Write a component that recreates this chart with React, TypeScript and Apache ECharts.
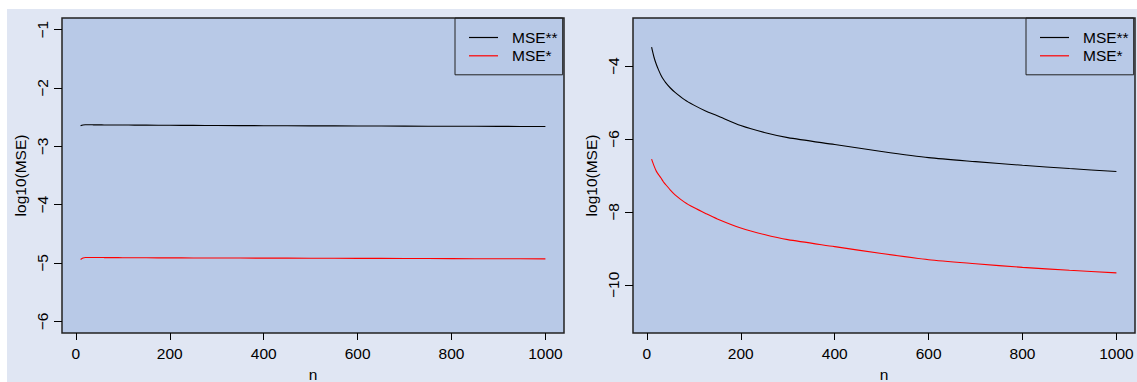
import React, { useEffect, useRef } from "react";
import * as echarts from "echarts";

// Sample sizes at which the MSE was evaluated
const sampleSizes = [10, 15, 20, 25, 30, 35, 40, 50, 60, 80, 100, 125, 150, 200, 250, 300, 400, 500, 600, 700, 800, 900, 1000];

// Left panel: log10(MSE) values
const leftMseDoubleStar = [-2.645, -2.634, -2.63, -2.63, -2.631, -2.631, -2.632, -2.632, -2.633, -2.634, -2.635, -2.636, -2.637, -2.639, -2.641, -2.643, -2.646, -2.649, -2.651, -2.654, -2.656, -2.658, -2.66];
const leftMseStar = [-4.94, -4.915, -4.905, -4.905, -4.905, -4.905, -4.906, -4.906, -4.907, -4.908, -4.909, -4.91, -4.911, -4.912, -4.913, -4.914, -4.916, -4.918, -4.92, -4.922, -4.925, -4.927, -4.93];

// Right panel: log10(MSE) values
const rightMseDoubleStar = [-3.48, -3.75, -3.95, -4.11, -4.25, -4.36, -4.45, -4.6, -4.72, -4.92, -5.07, -5.23, -5.36, -5.63, -5.82, -5.96, -6.15, -6.34, -6.51, -6.62, -6.72, -6.81, -6.89];
const rightMseStar = [-6.55, -6.73, -6.88, -6.98, -7.07, -7.17, -7.25, -7.4, -7.53, -7.73, -7.88, -8.04, -8.19, -8.44, -8.62, -8.76, -8.95, -9.14, -9.31, -9.42, -9.52, -9.6, -9.67];

// Tick positions
const xTicks = [0, 200, 400, 600, 800, 1000];
const leftYTicks = [-6, -5, -4, -3, -2, -1];
const rightYTicks = [-10, -8, -6, -4];

const seriesNames = ["MSE**", "MSE*"];
const seriesColors = ["#000000", "#ff0000"];

const FONT = "'Liberation Sans', Arial, Helvetica, sans-serif";
const PAGE_BG = "#e0e6f3";
const PLOT_BG = "#b8c9e7";

const toPairs = (ys: number[]) => sampleSizes.map((n, i) => [n, ys[i]]);
const withMinus = (v: number) => String(v).replace("-", "\u2212");

export default function App() {
  const ref = useRef<HTMLDivElement>(null);

  useEffect(() => {
    if (!ref.current) return;
    const chart = echarts.init(ref.current, null, { renderer: "svg" });

    const textStyle = { color: "#000", fontSize: 15.5, fontFamily: FONT };

    const xAxisFor = (gridIndex: number) => ({
      type: "value",
      gridIndex,
      min: -29.6,
      max: 1039.6,
      axisLine: { show: false, onZero: false },
      axisTick: { show: true, inside: false, length: 7, customValues: xTicks, lineStyle: { color: "#000", width: 1 } },
      axisLabel: { customValues: xTicks, margin: 12, formatter: (v: number) => String(v), ...textStyle },
      splitLine: { show: false },
      name: "n",
      nameLocation: "middle",
      nameGap: 33,
      nameMoveOverlap: false,
      nameTextStyle: textStyle,
    });

    const yAxisFor = (gridIndex: number, min: number, max: number, ticks: number[]) => ({
      type: "value",
      gridIndex,
      min,
      max,
      axisLine: { show: false, onZero: false },
      axisTick: { show: true, inside: false, length: 8, customValues: ticks, lineStyle: { color: "#000", width: 1 } },
      axisLabel: { customValues: ticks, rotate: 90, margin: 12, formatter: withMinus, ...textStyle },
      splitLine: { show: false },
      name: "log10(MSE)",
      nameLocation: "middle",
      nameRotate: 90,
      nameGap: 34,
      nameMoveOverlap: false,
      nameTextStyle: textStyle,
    });

    const lineSeries = (name: string, color: string, data: number[], idx: number) => ({
      type: "line",
      name,
      xAxisIndex: idx,
      yAxisIndex: idx,
      data: toPairs(data),
      symbol: "none",
      smooth: 0.25,
      lineStyle: { color, width: 1.1 },
      itemStyle: { color },
    });

    const legendFor = (left: number) => ({
      orient: "vertical",
      left,
      top: 18,
      data: seriesNames.map((name) => ({ name, icon: "rect" })),
      itemWidth: 29,
      itemHeight: 1.2,
      itemGap: 0.3,
      padding: [10.5, 5, 10, 14],
      borderColor: "#222",
      borderWidth: 1,
      borderRadius: 0,
      backgroundColor: "transparent",
      selectedMode: false,
      textStyle: { ...textStyle, lineHeight: 18, padding: [0, 0, 0, 9] },
    });

    const gridBase = {
      top: 18,
      width: 502,
      height: 315,
      show: true,
      containLabel: false,
      outerBoundsMode: "none",
      backgroundColor: PLOT_BG,
      borderColor: "#222",
      borderWidth: 1.5,
    };

    chart.setOption({
      animation: false,
      backgroundColor: "#ffffff",
      graphic: [
        {
          type: "rect",
          z: -10,
          silent: true,
          shape: { x: 7, y: 9, width: 1130, height: 373 },
          style: { fill: PAGE_BG },
        },
      ],
      grid: [
        { ...gridBase, left: 62 },
        { ...gridBase, left: 633 },
      ],
      xAxis: [xAxisFor(0), xAxisFor(1)],
      yAxis: [yAxisFor(0, -6.2, -0.8, leftYTicks), yAxisFor(1, -11.32, -2.68, rightYTicks)],
      legend: [legendFor(455), legendFor(1026)],
      series: [
        lineSeries(seriesNames[0], seriesColors[0], leftMseDoubleStar, 0),
        lineSeries(seriesNames[1], seriesColors[1], leftMseStar, 0),
        lineSeries(seriesNames[0], seriesColors[0], rightMseDoubleStar, 1),
        lineSeries(seriesNames[1], seriesColors[1], rightMseStar, 1),
      ],
    });

    return () => chart.dispose();
  }, []);

  return <div ref={ref} style={{ position: "fixed", left: 0, top: 0, width: 1137, height: 382 }} />;
}
